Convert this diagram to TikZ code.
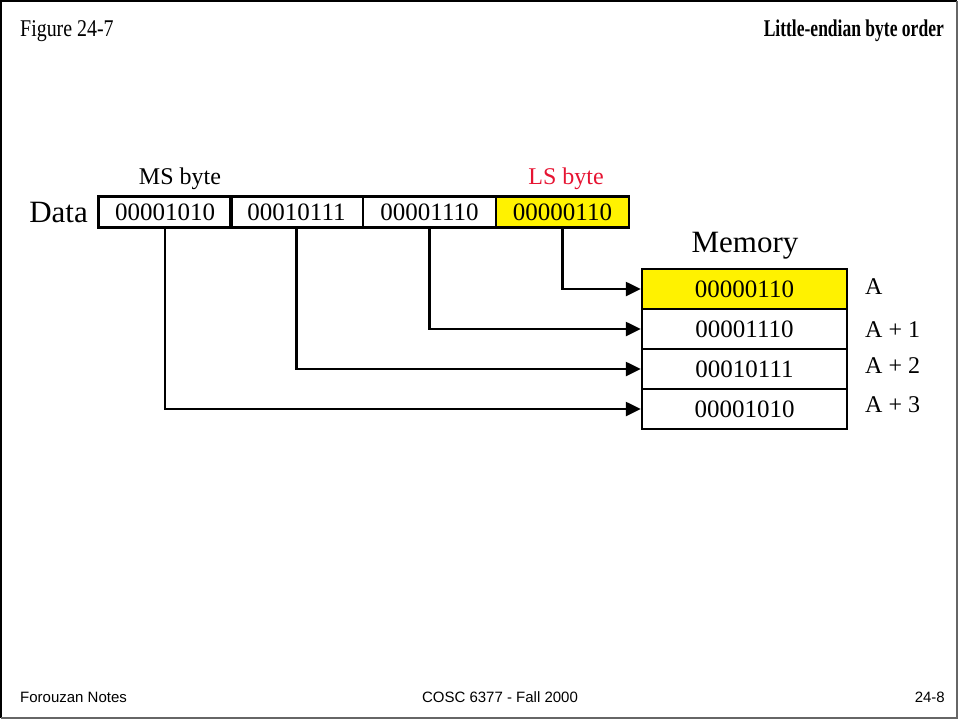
\documentclass[tikz,border=0pt]{standalone}
\usepackage{fontspec}
\setmainfont{Liberation Serif}
\setsansfont{Liberation Sans}
\usetikzlibrary{arrows.meta}
\definecolor{lsred}{RGB}{230,20,50}

\tikzset{
  bytebox/.style={draw, line width=2.4pt, minimum width=133pt, minimum height=31pt,
    inner sep=0pt, font=\fontsize{25}{25}\selectfont},
  memcell/.style={draw, line width=2.4pt, minimum width=205pt, minimum height=40pt,
    inner sep=0pt, font=\fontsize{25}{25}\selectfont},
  wire/.style={line width=2.4pt, -{Triangle[length=15pt,width=14pt]}},
  lbl/.style={inner sep=0pt, font=\fontsize{24}{24}\selectfont},
  foot/.style={inner sep=0pt, font=\sffamily\fontsize{15}{15}\selectfont}
}

\begin{document}
\begin{tikzpicture}[x=1pt, y=-1pt]
    \useasboundingbox (0,0) rectangle (961,721);
    \draw[line width=1.6pt] (957,1) -- (1,1) -- (1,718);
    \draw[line width=1.2pt, black!60] (1,718) -- (957,718) -- (957,1);

    % header and footer
    \node[anchor=west, inner sep=0pt, font=\fontsize{24}{24}\selectfont] (fig) at (20,31)
        {\scalebox{0.83}[1]{Figure 24-7}};
    \node[anchor=east, inner sep=0pt, font=\fontsize{24}{24}\selectfont\bfseries] (title) at (944,31)
        {\scalebox{0.73}[1]{Little-endian byte order}};
    \node[foot, anchor=west] (notes) at (20,697) {Forouzan Notes};
    \node[foot] (course) at (500,697) {COSC 6377 - Fall 2000};
    \node[foot, anchor=east] (page) at (945,697) {24-8};

    % data word
    \node[anchor=east, inner sep=0pt, font=\fontsize{31}{31}\selectfont] (data) at (88,212) {Data};
    \node[bytebox] (d1) at (165,212) {00001010};
    \node[bytebox] (d2) at (296.5,212) {00010111};
    \node[bytebox] (d3) at (429.5,212) {00001110};
    \node[bytebox, fill=yellow] (d4) at (562.5,212) {00000110};
    \node[lbl] (ms) at (180,179) {MS byte};
    \node[lbl, text=lsred] (ls) at (566,179) {LS byte};

    % memory
    \node[lbl, font=\fontsize{31}{31}\selectfont] (mem) at (745,246) {Memory};
    \node[memcell, fill=yellow] (m0) at (744.5,289) {00000110};
    \node[memcell] (m1) at (744.5,329) {00001110};
    \node[memcell] (m2) at (744.5,369) {00010111};
    \node[memcell] (m3) at (744.5,409) {00001010};
    \node[lbl, anchor=west] (a0) at (865,287) {A};
    \node[lbl, anchor=west] (a1) at (865,330) {A + 1};
    \node[lbl, anchor=west] (a2) at (865,366) {A + 2};
    \node[lbl, anchor=west] (a3) at (865,405) {A + 3};

    \draw[wire] (d4.south) |- (m0.west);
    \draw[wire] (d3.south) |- (m1.west);
    \draw[wire] (d2.south) |- (m2.west);
    \draw[wire] (d1.south) |- (m3.west);
\end{tikzpicture}
\end{document}
